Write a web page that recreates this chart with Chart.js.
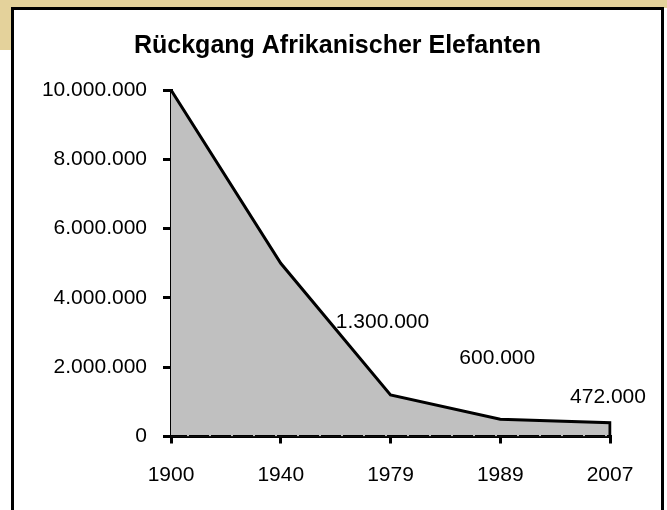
<!DOCTYPE html>
<html>
<head>
<meta charset="utf-8">
<script src="https://cdn.jsdelivr.net/npm/chart.js@4.4.1/dist/chart.umd.min.js"></script>
<style>
  html, body { margin: 0; padding: 0; background: #fff; overflow: hidden; }
  .band-top { position: absolute; left: 0; top: 0; width: 667px; height: 8px; background: #E4D29B; }
  .band-left { position: absolute; left: 0; top: 0; width: 12px; height: 50px; background: #E4D29B; }
  .box { position: absolute; left: 11px; top: 7px; width: 647px; height: 503px;
         border: 3px solid #000; border-bottom: none; background: #fff; }
  canvas { display: block; }
</style>
</head>
<body>
<div class="band-top"></div>
<div class="band-left"></div>
<div class="box"><canvas id="elefanten" width="647" height="500"></canvas></div>
<script>
// Rückgang Afrikanischer Elefanten
// -----------------------------------
var years = ['1900', '1940', '1979', '1989', '2007'];
var elephants = [10000000, 5000000, 1200000, 500000, 400000];
var yTicks = [0, 2000000, 4000000, 6000000, 8000000, 10000000];
var noteTexts = ['1.300.000', '600.000', '472.000'];
var noteYears = ['1979', '1989', '2007'];

function fmt(v) {
    return String(v).replace(/\B(?=(\d{3})+(?!\d))/g, '.');
}

// area outline closes down to the axis at the last year
var areaPoints = years.map(function(yr, i) { return { x: yr, y: elephants[i] }; });
areaPoints.push({ x: years[years.length - 1], y: 0 });

var font = { family: '"Liberation Sans", Arial, sans-serif', size: 21 };

// free text notes next to the curve
var notesPlugin = {
    id: 'notes',
    afterDatasetsDraw: function(chart, args, opts) {
        var ctx = chart.ctx;
        var xs = chart.scales.x, ys = chart.scales.y;
        ctx.save();
        ctx.font = font.size + 'px ' + font.family;
        ctx.fillStyle = '#000';
        ctx.textAlign = 'center';
        ctx.textBaseline = 'middle';
        noteTexts.forEach(function(t, i) {
            var x = xs.getPixelForValue(years.indexOf(noteYears[i])) + opts.dx[i];
            var y = ys.getPixelForValue(opts.at[i]);
            ctx.fillText(t, x, y);
        });
        ctx.restore();
    }
};

new Chart(document.getElementById('elefanten'), {
    type: 'line',
    data: {
        labels: years,
        datasets: [{
            // dashed baseline over the fill
            data: years.map(function() { return 0; }),
            borderColor: '#000',
            borderWidth: 3,
            borderDash: [20, 2],
            borderDashOffset: 4,
            pointRadius: 0,
            fill: false,
            order: 0
        }, {
            data: areaPoints,
            borderColor: '#000',
            borderWidth: 3,
            backgroundColor: '#C0C0C0',
            fill: 'origin',
            pointRadius: 0,
            tension: 0,
            order: 1
        }]
    },
    options: {
        responsive: false,
        animation: false,
        devicePixelRatio: 1,
        layout: { padding: 0 },
        plugins: {
            legend: { display: false },
            tooltip: { enabled: false },
            title: {
                display: true,
                text: 'Rückgang Afrikanischer Elefanten',
                color: '#000',
                font: { family: font.family, size: 25, weight: 'bold' },
                padding: { top: 21, bottom: 29 }
            },
            notes: {
                at: [3300000, 2270000, 1140000],
                dx: [-8, -3, -2]
            }
        },
        scales: {
            x: {
                type: 'category',
                offset: false,
                afterFit: function(s) { s.height = 73.5; },
                border: { display: true, color: '#000', width: 3 },
                grid: { drawOnChartArea: false, drawTicks: true, tickLength: 7, color: '#000', lineWidth: 3 },
                ticks: { color: '#000', font: font, padding: 19, maxRotation: 0 }
            },
            y: {
                min: 0,
                max: 10000000,
                afterFit: function(s) { s.width = 157; },
                afterBuildTicks: function(s) { s.ticks = yTicks.map(function(v) { return { value: v }; }); },
                border: { display: true, color: '#000', width: 3 },
                grid: { drawOnChartArea: false, drawTicks: true, tickLength: 8, color: '#000', lineWidth: 3 },
                ticks: { color: '#000', font: font, padding: 16, callback: function(v) { return fmt(v); } }
            },
            // empty right side, keeps the title centred over the whole box
            spacer: {
                position: 'right',
                min: 0,
                max: 1,
                afterFit: function(s) { s.width = 51; },
                border: { display: false },
                grid: { display: false },
                ticks: { display: false }
            }
        }
    },
    plugins: [notesPlugin]
});
</script>
</body>
</html>
